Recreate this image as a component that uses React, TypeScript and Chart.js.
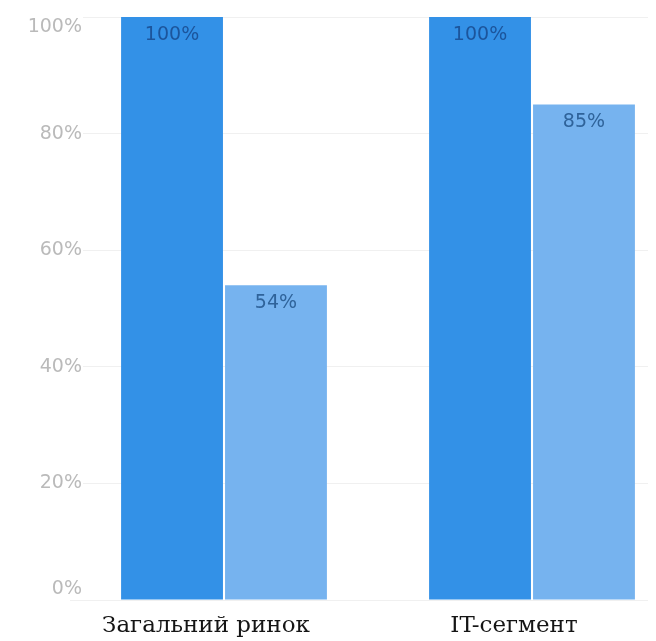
import React, { useEffect, useRef } from "react";
import { Chart, registerables } from "chart.js";

Chart.register(...registerables);

const categories = ["Загальний ринок", "IT-сегмент"];
const baseValues = [100, 100];
const compareValues = [54, 85];
const yTickValues = [0, 20, 40, 60, 80, 100];
const yTickLabels = ["0%", "20%", "40%", "60%", "80%", "100%"];

const valueLabelPlugin = {
  id: "valueLabels",
  afterDatasetsDraw(chart: any) {
    const ctx = chart.ctx;
    ctx.save();
    ctx.font = "19px 'DejaVu Sans'";
    ctx.textAlign = "center";
    ctx.textBaseline = "middle";
    chart.data.datasets.forEach((ds: any, di: number) => {
      const meta = chart.getDatasetMeta(di);
      meta.data.forEach((el: any, i: number) => {
        ctx.fillStyle = di === 0 ? "#1c559c" : "#2f639a";
        ctx.fillText(ds.data[i] + "%", el.x, el.y + 18);
      });
    });
    ctx.restore();
  },
};

export default function App() {
  const ref = useRef<HTMLCanvasElement | null>(null);

  useEffect(() => {
    if (!ref.current) return;
    const chart = new Chart(ref.current, {
      type: "bar",
      data: {
        labels: categories,
        datasets: [
          {
            label: "Base",
            data: baseValues,
            backgroundColor: "#3391e7",
            categoryPercentage: 0.675,
            barPercentage: 0.98,
          },
          {
            label: "Compare",
            data: compareValues,
            backgroundColor: "#76b3ef",
            categoryPercentage: 0.675,
            barPercentage: 0.98,
          },
        ],
      },
      options: {
        responsive: false,
        animation: false,
        layout: { padding: { top: 9, right: 0, bottom: 0, left: 0 } },
        plugins: {
          legend: { display: false },
          tooltip: { enabled: false },
        },
        scales: {
          x: {
            grid: { display: false },
            border: { display: false },
            ticks: {
              font: { family: "'DejaVu Serif'", size: 23 },
              color: "#151515",
              padding: 4,
              labelOffset: -18,
              maxRotation: 0,
              autoSkip: false,
            },
            afterFit: (s: any) => {
              s.height = 41;
              s.paddingLeft = 0;
              s.paddingRight = 0;
            },
          },
          y: {
            min: 0,
            max: 100,
            afterBuildTicks: (s: any) => {
              s.ticks = yTickValues.map((v) => ({ value: v }));
            },
            grid: { color: "#f0f0f0", drawTicks: false },
            border: { display: false },
            ticks: {
              padding: -12,
              autoSkip: false,
              font: { family: "'DejaVu Sans'", size: 19, lineHeight: 1.1 },
              color: "#bababa",
              showLabelBackdrop: (c: any) => !(c.tick && c.tick.value === 0),
              backdropColor: "#ffffff",
              backdropPadding: 1,
              callback: (value: any) => {
                const idx = yTickValues.indexOf(Number(value));
                const label = yTickLabels[idx];
                if (idx === yTickValues.length - 1) return ["", label];
                if (idx === 0) return [label, ""];
                return label;
              },
            },
            afterFit: (s: any) => {
              s.width = 62;
              s.paddingTop = 0;
              s.paddingBottom = 0;
              s._computeLabelArea = () => undefined;
            },
          },
        },
      },
      plugins: [valueLabelPlugin],
    });
    return () => chart.destroy();
  }, []);

  return (
    <div style={{ width: 648, height: 633, overflow: "hidden" }}>
      <canvas ref={ref} width={678} height={633} style={{ display: "block" }} />
    </div>
  );
}
